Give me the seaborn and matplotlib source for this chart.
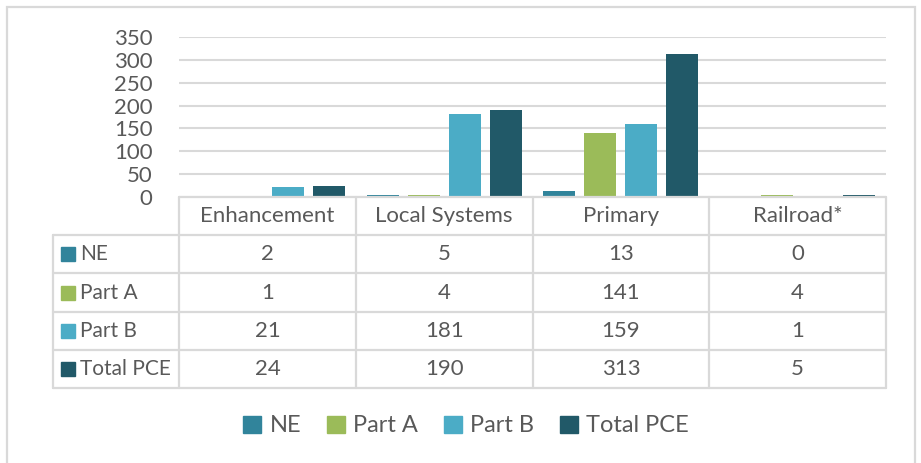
import pandas as pd
import matplotlib.pyplot as plt
import seaborn as sns
from matplotlib.patches import Rectangle
from matplotlib.lines import Line2D
import matplotlib.transforms as mtransforms

categories = ["Enhancement", "Local Systems", "Primary", "Railroad*"]
series = ["NE", "Part A", "Part B", "Total PCE"]
ne = [2, 5, 13, 0]
part_a = [1, 4, 141, 4]
part_b = [21, 181, 159, 1]
total_pce = [24, 190, 313, 5]
colors = ["#31849B", "#9BBB59", "#4BACC6", "#215968"]
yticks = [0, 50, 100, 150, 200, 250, 300, 350]

values = [ne, part_a, part_b, total_pce]
rows = []
for s, vals in zip(series, values):
    for c, v in zip(categories, vals):
        rows.append({"category": c, "series": s, "value": v})
df = pd.DataFrame(rows)

sns.set_style("white")
plt.rcParams['font.family'] = ['Lato', 'DejaVu Sans']
text_color = "#595959"
line_color = "#D9D9D9"
fs = 16

W, H = 921, 463
fig = plt.figure(figsize=(W / 100, H / 100), dpi=100)
ax = fig.add_axes([179 / W, 1 - 197 / H, 707 / W, 160 / H])

sns.barplot(data=df, x="category", y="value", hue="series", palette=colors,
            hue_order=series, order=categories, width=0.927, gap=0.22,
            saturation=1, legend=False, ax=ax)
for p in ax.patches:
    p.set_linewidth(0)

ax.set_xlim(-0.5, len(categories) - 0.5)
ax.set_ylim(0, 350)
ax.set_yticks(yticks)
ax.set_yticklabels([str(t) for t in yticks], fontsize=fs, color=text_color)
ax.tick_params(axis="y", length=0, pad=19)
ax.set_xticks([])
ax.set_xlabel("")
ax.set_ylabel("")
for sp in ax.spines.values():
    sp.set_visible(False)
ax.yaxis.grid(True, color=line_color, linewidth=1.5)
ax.set_axisbelow(True)

# data table under the axis
trans = mtransforms.blended_transform_factory(ax.transData, ax.transAxes)
px = 1 / 160  # one pixel in axes-y units
row_edges = [0, -38 * px, -76 * px, -115 * px, -153 * px, -191 * px]
x_left_label = -0.5 - 126 / 177
x_right = len(categories) - 0.5

for i, y in enumerate(row_edges):
    x0 = -0.5 if i == 0 else x_left_label
    ax.add_line(Line2D([x0, x_right], [y, y], transform=trans, color=line_color,
                       linewidth=1.6, clip_on=False))
for j in range(len(categories) + 1):
    xb = j - 0.5
    ax.add_line(Line2D([xb, xb], [row_edges[0], row_edges[-1]], transform=trans,
                       color=line_color, linewidth=1.6, clip_on=False))
ax.add_line(Line2D([x_left_label, x_left_label], [row_edges[1], row_edges[-1]],
                   transform=trans, color=line_color, linewidth=1.6, clip_on=False))

for j, c in enumerate(categories):
    ax.text(j, (row_edges[0] + row_edges[1]) / 2, c, transform=trans, ha="center",
            va="center", fontsize=fs, color=text_color, clip_on=False)

for i, (s, vals, col) in enumerate(zip(series, values, colors)):
    yc = (row_edges[i + 1] + row_edges[i + 2]) / 2
    ax.add_patch(Rectangle((x_left_label + 8 / 177, yc - 7 * px), 14 / 177, 14 * px,
                           transform=trans, color=col, clip_on=False))
    ax.text(x_left_label + 27 / 177, yc, s, transform=trans, ha="left", va="center",
            fontsize=15, color=text_color, clip_on=False)
    for j, v in enumerate(vals):
        ax.text(j, yc, str(v), transform=trans, ha="center", va="center",
                fontsize=fs, color=text_color, clip_on=False)

# legend
handles = [Rectangle((0, 0), 1, 1, color=c) for c in colors]
fig.legend(handles, series, loc="center", bbox_to_anchor=(466 / W, 1 - 426 / H),
           ncol=4, frameon=False, fontsize=17, labelcolor=text_color,
           handlelength=0.75, handleheight=0.75, handletextpad=0.35, columnspacing=1.1)

# chart border
fig.add_artist(Rectangle((7 / W, -0.05), 908 / W, 1.05 - 7 / H, transform=fig.transFigure,
                         fill=False, edgecolor=line_color, linewidth=1.6))

plt.savefig("out.png", dpi=100, facecolor="white")
